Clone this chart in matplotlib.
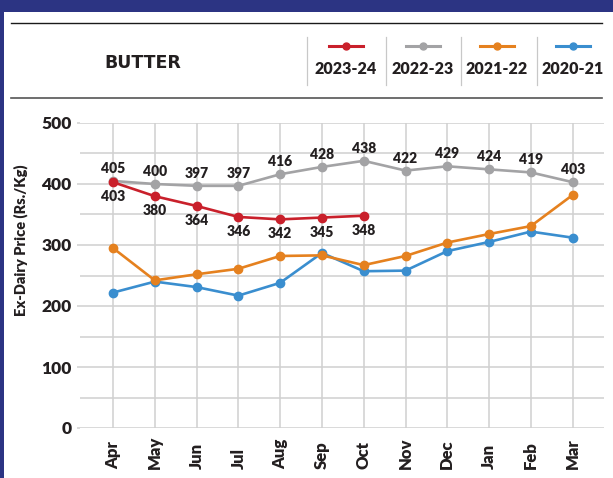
import matplotlib
matplotlib.use("Agg")
import matplotlib.pyplot as plt
import matplotlib.patches as mpatches
from matplotlib.lines import Line2D
from matplotlib.ticker import MultipleLocator

# Month axis and yearly series (Rs./Kg)
MONTHS = ["Apr", "May", "Jun", "Jul", "Aug", "Sep", "Oct", "Nov", "Dec", "Jan", "Feb", "Mar"]

PRICE_2023_24 = [403, 380, 364, 346, 342, 345, 348]
PRICE_2022_23 = [405, 400, 397, 397, 416, 428, 438, 422, 429, 424, 419, 403]
PRICE_2021_22 = [295, 242, 252, 261, 282, 283, 267, 282, 304, 318, 331, 382]
PRICE_2020_21 = [222, 240, 231, 217, 238, 287, 257, 258, 290, 305, 322, 312]

SERIES_NAMES = ["2023-24", "2022-23", "2021-22", "2020-21"]
SERIES_COLORS = ["#c9202b", "#a3a3a5", "#e5811f", "#3a8ecf"]

NAVY = "#2c3483"
TEXT = "#231f20"
GRID = "#d0d0d0"
FONT = "Lato"
WEIGHT = "heavy"

W, H = 613, 478


def fx(px):
    return px / W


def fy(py):
    return 1 - py / H


def draw_header(fig):
    # navy frame (top band + left strip)
    fig.patches.append(mpatches.Rectangle((0, fy(12)), 1, 12 / H, transform=fig.transFigure,
                                          facecolor=NAVY, edgecolor="none", zorder=0))
    fig.patches.append(mpatches.Rectangle((0, 0), fx(3.5), 1, transform=fig.transFigure,
                                          facecolor=NAVY, edgecolor="none", zorder=0))

    fig.add_artist(Line2D([fx(11), fx(602)], [fy(23), fy(23)], color="#1a1a1a", lw=1.0))
    fig.add_artist(Line2D([fx(11), fx(602)], [fy(98), fy(98)], color="#555555", lw=1.2))

    # heavy title
    fig.text(fx(143), fy(63), "BUTTER", ha="center", va="center", fontsize=12.5,
             fontweight="bold", family="DejaVu Sans", color=TEXT)

    # legend cells
    for sx in [307, 386, 461, 537]:
        fig.add_artist(Line2D([fx(sx), fx(sx)], [fy(37), fy(85)], color="#c8c8c8", lw=0.9))
    centers = [346, 423, 497, 573]
    for cx, name, col in zip(centers, SERIES_NAMES, SERIES_COLORS):
        fig.add_artist(Line2D([fx(cx - 17), fx(cx + 17)], [fy(46), fy(46)], color=col, lw=2.2))
        fig.add_artist(Line2D([fx(cx)], [fy(46)], color=col, marker="o", markersize=5, lw=0))
        fig.text(fx(cx), fy(69), name, ha="center", va="center", fontsize=11.5,
                 fontweight=WEIGHT, family=FONT, color=TEXT)


def main():
    fig = plt.figure(figsize=(W / 100, H / 100), dpi=100)
    fig.patch.set_facecolor("white")
    ax = fig.add_axes([fx(80), fy(428), fx(604) - fx(80), fy(123) - fy(428)])

    x_all = list(range(len(MONTHS)))
    series = [PRICE_2023_24, PRICE_2022_23, PRICE_2021_22, PRICE_2020_21]
    # draw oldest first so 2023-24 ends on top
    for vals, col, z in reversed(list(zip(series, SERIES_COLORS, [6, 5, 4, 3]))):
        ax.plot(x_all[:len(vals)], vals, color=col, lw=1.9, marker="o", markersize=6,
                zorder=z, clip_on=False)

    # data labels: 2022-23 above, 2023-24 below
    for i, v in enumerate(PRICE_2022_23):
        ax.annotate(str(v), (i, v), xytext=(0, 9), textcoords="offset points",
                    ha="center", va="center", fontsize=10, fontweight=WEIGHT,
                    family=FONT, color=TEXT, zorder=8)
    for i, v in enumerate(PRICE_2023_24):
        ax.annotate(str(v), (i, v), xytext=(0, -10.5), textcoords="offset points",
                    ha="center", va="center", fontsize=10, fontweight=WEIGHT,
                    family=FONT, color=TEXT, zorder=8)

    ax.set_xlim(-0.79, 11.75)
    ax.set_ylim(0, 500)
    ax.set_xticks(x_all)
    ax.set_xticklabels(MONTHS, rotation=90, va="bottom", ha="center",
                       fontsize=12, fontweight=WEIGHT, family=FONT, color=TEXT)
    ax.tick_params(axis="x", length=0, pad=29.5)
    ax.yaxis.set_major_locator(MultipleLocator(100))
    ax.yaxis.set_minor_locator(MultipleLocator(50))
    ax.tick_params(axis="y", which="major", length=2.5, color=GRID, width=1.1, pad=3.5,
                   labelsize=12.5, labelcolor=TEXT)
    ax.tick_params(axis="y", which="minor", length=0)
    for lbl in ax.get_yticklabels():
        lbl.set_fontweight(WEIGHT)
        lbl.set_family(FONT)

    ax.grid(True, which="both", axis="y", color=GRID, lw=1.1)
    ax.grid(True, which="major", axis="x", color=GRID, lw=1.1)
    ax.set_axisbelow(True)
    for sp in ax.spines.values():
        sp.set_visible(False)

    fig.text(fx(21), fy(240), "Ex-Dairy Price (Rs./Kg)", rotation=90, ha="center",
             va="center", fontsize=10.5, fontweight=WEIGHT, family=FONT, color=TEXT)

    draw_header(fig)
    fig.savefig("out.png", dpi=100)
    plt.close(fig)


if __name__ == "__main__":
    main()
